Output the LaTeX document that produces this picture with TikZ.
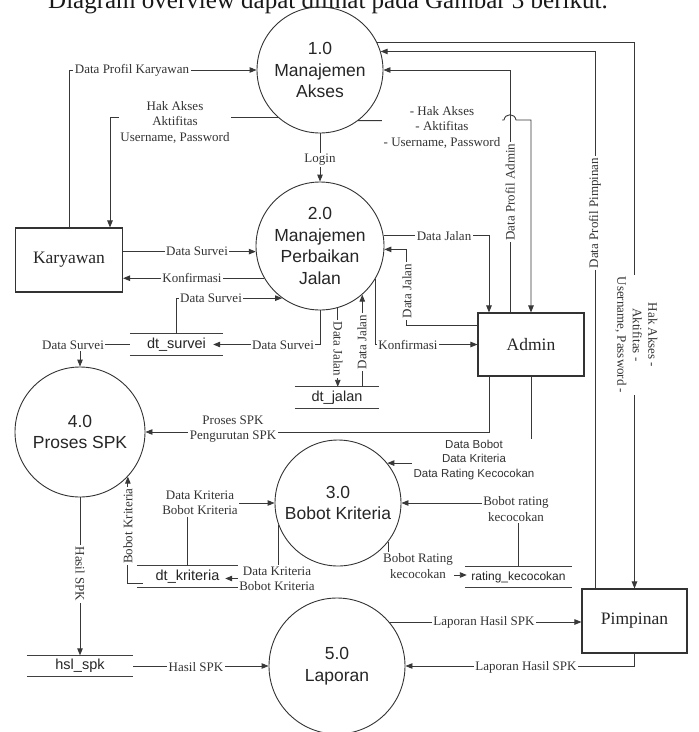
\documentclass[tikz,border=0pt]{standalone}
\usepackage{fontspec}
\setmainfont{Liberation Serif}
\newfontfamily\arialf{Liberation Sans}
\usetikzlibrary{arrows.meta,calc}
\begin{document}
\begin{tikzpicture}[x=1pt,y=-1pt,
  ln/.style={draw=black!78, line width=0.9pt},
  flow/.style={ln, -{Triangle[length=7pt,width=5.5pt]}},
  proc/.style={circle, draw=black!80, line width=0.9pt, inner sep=0pt, align=center, font=\arialf\fontsize{17.5}{21.5}\selectfont, text=black!85},
  ent/.style={draw=black!80, line width=1.1pt, inner sep=0pt, font=\fontsize{17.5}{20}\selectfont, text=black!85},
  store/.style={inner sep=0pt, minimum height=21pt, font=\arialf\fontsize{14.5}{16}\selectfont, text=black!85},
  storeline/.style={draw=black!75, line width=1pt},
  lbl/.style={fill=white, inner sep=1.5pt, align=center, font=\fontsize{13}{15.5}\selectfont, text=black!80},
  slbl/.style={lbl, font=\arialf\fontsize{11.5}{14.5}\selectfont},
]
\useasboundingbox (0,0) rectangle (699,732);
\fill[white] (0,0) rectangle (699,732);

% cropped caption line at the top (cut off in the reference too)
\node[anchor=base west, inner sep=0pt, font=\fontsize{25}{25}\selectfont, text=black!90] (title) at (48,8) {Diagram overview dapat dilihat pada Gambar 3 berikut.};

% processes
\node[proc, minimum size=126pt] (p1) at (320,70) {1.0\\Manajemen\\Akses};
\node[proc, minimum size=128pt] (p2) at (320,246) {2.0\\Manajemen\\Perbaikan\\Jalan};
\node[proc, minimum size=126pt] (p3) at (338,503) {3.0\\Bobot Kriteria};
\node[proc, minimum size=130pt] (p4) at (80,432) {4.0\\Proses SPK};
\node[proc, minimum size=136pt] (p5) at (337,666) {5.0\\Laporan};

% entities
\node[ent, minimum width=107pt, minimum height=64pt] (kar) at (69,260) {Karyawan};
\node[ent, minimum width=106pt, minimum height=63pt] (adm) at (531,344.5) {Admin};
\node[ent, minimum width=105pt, minimum height=64pt] (pim) at (634.5,621) {Pimpinan};

% data stores
\node[store, minimum width=93pt] (dts) at (176.5,344.5) {dt\_survei};
\node[store, minimum width=84pt] (dtj) at (337,397.5) {dt\_jalan};
\node[store, minimum width=101pt] (dtk) at (187.5,576.5) {dt\_kriteria};
\node[store, minimum width=107pt, font=\arialf\fontsize{12}{14}\selectfont] (rk) at (518.5,577) {rating\_kecocokan};
\node[store, minimum width=106pt] (hs) at (80,666) {hsl\_spk};
\foreach \s in {dts,dtj,dtk,rk,hs}
  \draw[storeline] (\s.north west) -- (\s.north east) (\s.south west) -- (\s.south east);

% connectors
\draw[flow] (kar.north) |- (p1.west);
\draw[flow] (p1.228) -| ([xshift=41pt]kar.north);
\draw[flow] (p1.south) -- (p2.north);
\draw[flow] ([xshift=-21pt]adm.north) |- (p1.east);
\draw[flow] (p1.307) -- (504,120) .. controls (505,113) and (515,113) .. (516,120) -| (adm.north);
\draw[flow] ([xshift=-39.5pt]pim.north) |- (p1.17);
\draw[flow] (p1.26) -| (pim.north);

\draw[flow] (kar.east |- p2.185) -- (p2.185);
\draw[flow] (p2.210) -- (kar.east |- p2.210);
\draw[flow] (dts.north) |- (p2.234);
\draw[flow] (p2.south) |- ([xshift=-10pt]dts.east);
\draw[flow] (dts.west) -| (p4.north);
\draw[flow] (p2.9) -| ([xshift=-42pt]adm.north);
\draw[flow] ([yshift=19.5pt]adm.west) -- ++(-71,0) |- (p2.357);
\draw[flow] (p2.329) |- (adm.west);
\draw[flow] (p2.286) -- (p2.286 |- dtj.north);
\draw[flow] (p2.311 |- dtj.north) -- (p2.311);

\draw[flow] ([xshift=-42pt]adm.south) |- (p4.east);
\draw[flow] (adm.south) |- (p3.39);
\draw[flow] (rk.north) |- (p3.east);
\draw[flow] (p3.322) |- ([xshift=2pt,yshift=2pt]rk.west);
\draw[flow] (dtk.north) |- (p3.west);
\draw[flow] (p3.200) |- ([xshift=-13pt,yshift=-2pt]dtk.east);
\draw[flow] ([xshift=6pt,yshift=-7pt]dtk.west) -| (p4.317.6);
\draw[flow] (p4.south) -- (hs.north);

\draw[flow] (hs.east) -- (p5.west);
\draw[flow] (p5.40) -- (pim.west |- p5.40);
\draw[flow] (pim.south) |- (p5.east);

% labels
\node[lbl] (l1) at (132,70) {Data Profil Karyawan};
\node[lbl] (l2) at (175,122) {Hak Akses\\Aktifitas\\Username, Password};
\node[lbl] (l3) at (320,160) {Login};
\node[lbl] (l4) at (442,127) {- Hak Akses\\- Aktifitas\\- Username, Password};
\node[lbl, rotate=90] (l5) at (510,192) {Data Profil Admin};
\node[lbl, rotate=90] (l6) at (595,213) {Data Profil Pimpinan};
\node[lbl, rotate=-90] (l7) at (636.5,335) {Hak Akses -\\Aktifitas -\\Username, Password -};
\node[lbl] (l8) at (197,251) {Data Survei};
\node[lbl] (l9) at (192,278) {Konfirmasi};
\node[lbl] (l10) at (211,298) {Data Survei};
\node[lbl] (l11) at (283,345) {Data Survei};
\node[lbl] (l12) at (73,345) {Data Survei};
\node[lbl] (l13) at (444,236) {Data Jalan};
\node[lbl, rotate=90] (l14) at (407,291) {Data Jalan};
\node[lbl] (l15) at (408,345) {Konfirmasi};
\node[lbl, rotate=-90] (l16) at (338,349) {Data Jalan};
\node[lbl, rotate=90] (l17) at (362,342) {Data Jalan};
\node[lbl] (l18) at (233,429) {Proses SPK\\Pengurutan SPK};
\node[slbl] (l19) at (474,460) {Data Bobot\\Data Kriteria\\Data Rating Kecocokan};
\node[lbl] (l20) at (516,509) {Bobot rating\\kecocokan};
\node[lbl] (l21) at (418,566) {Bobot Rating\\kecocokan};
\node[lbl] (l22) at (200,503) {Data Kriteria\\Bobot Kriteria};
\node[lbl] (l23) at (277,579) {Data Kriteria\\Bobot Kriteria};
\node[lbl, rotate=90] (l24) at (128,526) {Bobot Kriteria};
\node[lbl, rotate=-90] (l25) at (80,574) {Hasil SPK};
\node[lbl] (l26) at (196,667) {Hasil SPK};
\node[lbl] (l27) at (484,622) {Laporan Hasil SPK};
\node[lbl] (l28) at (526,667) {Laporan Hasil SPK};
\end{tikzpicture}
\end{document}
